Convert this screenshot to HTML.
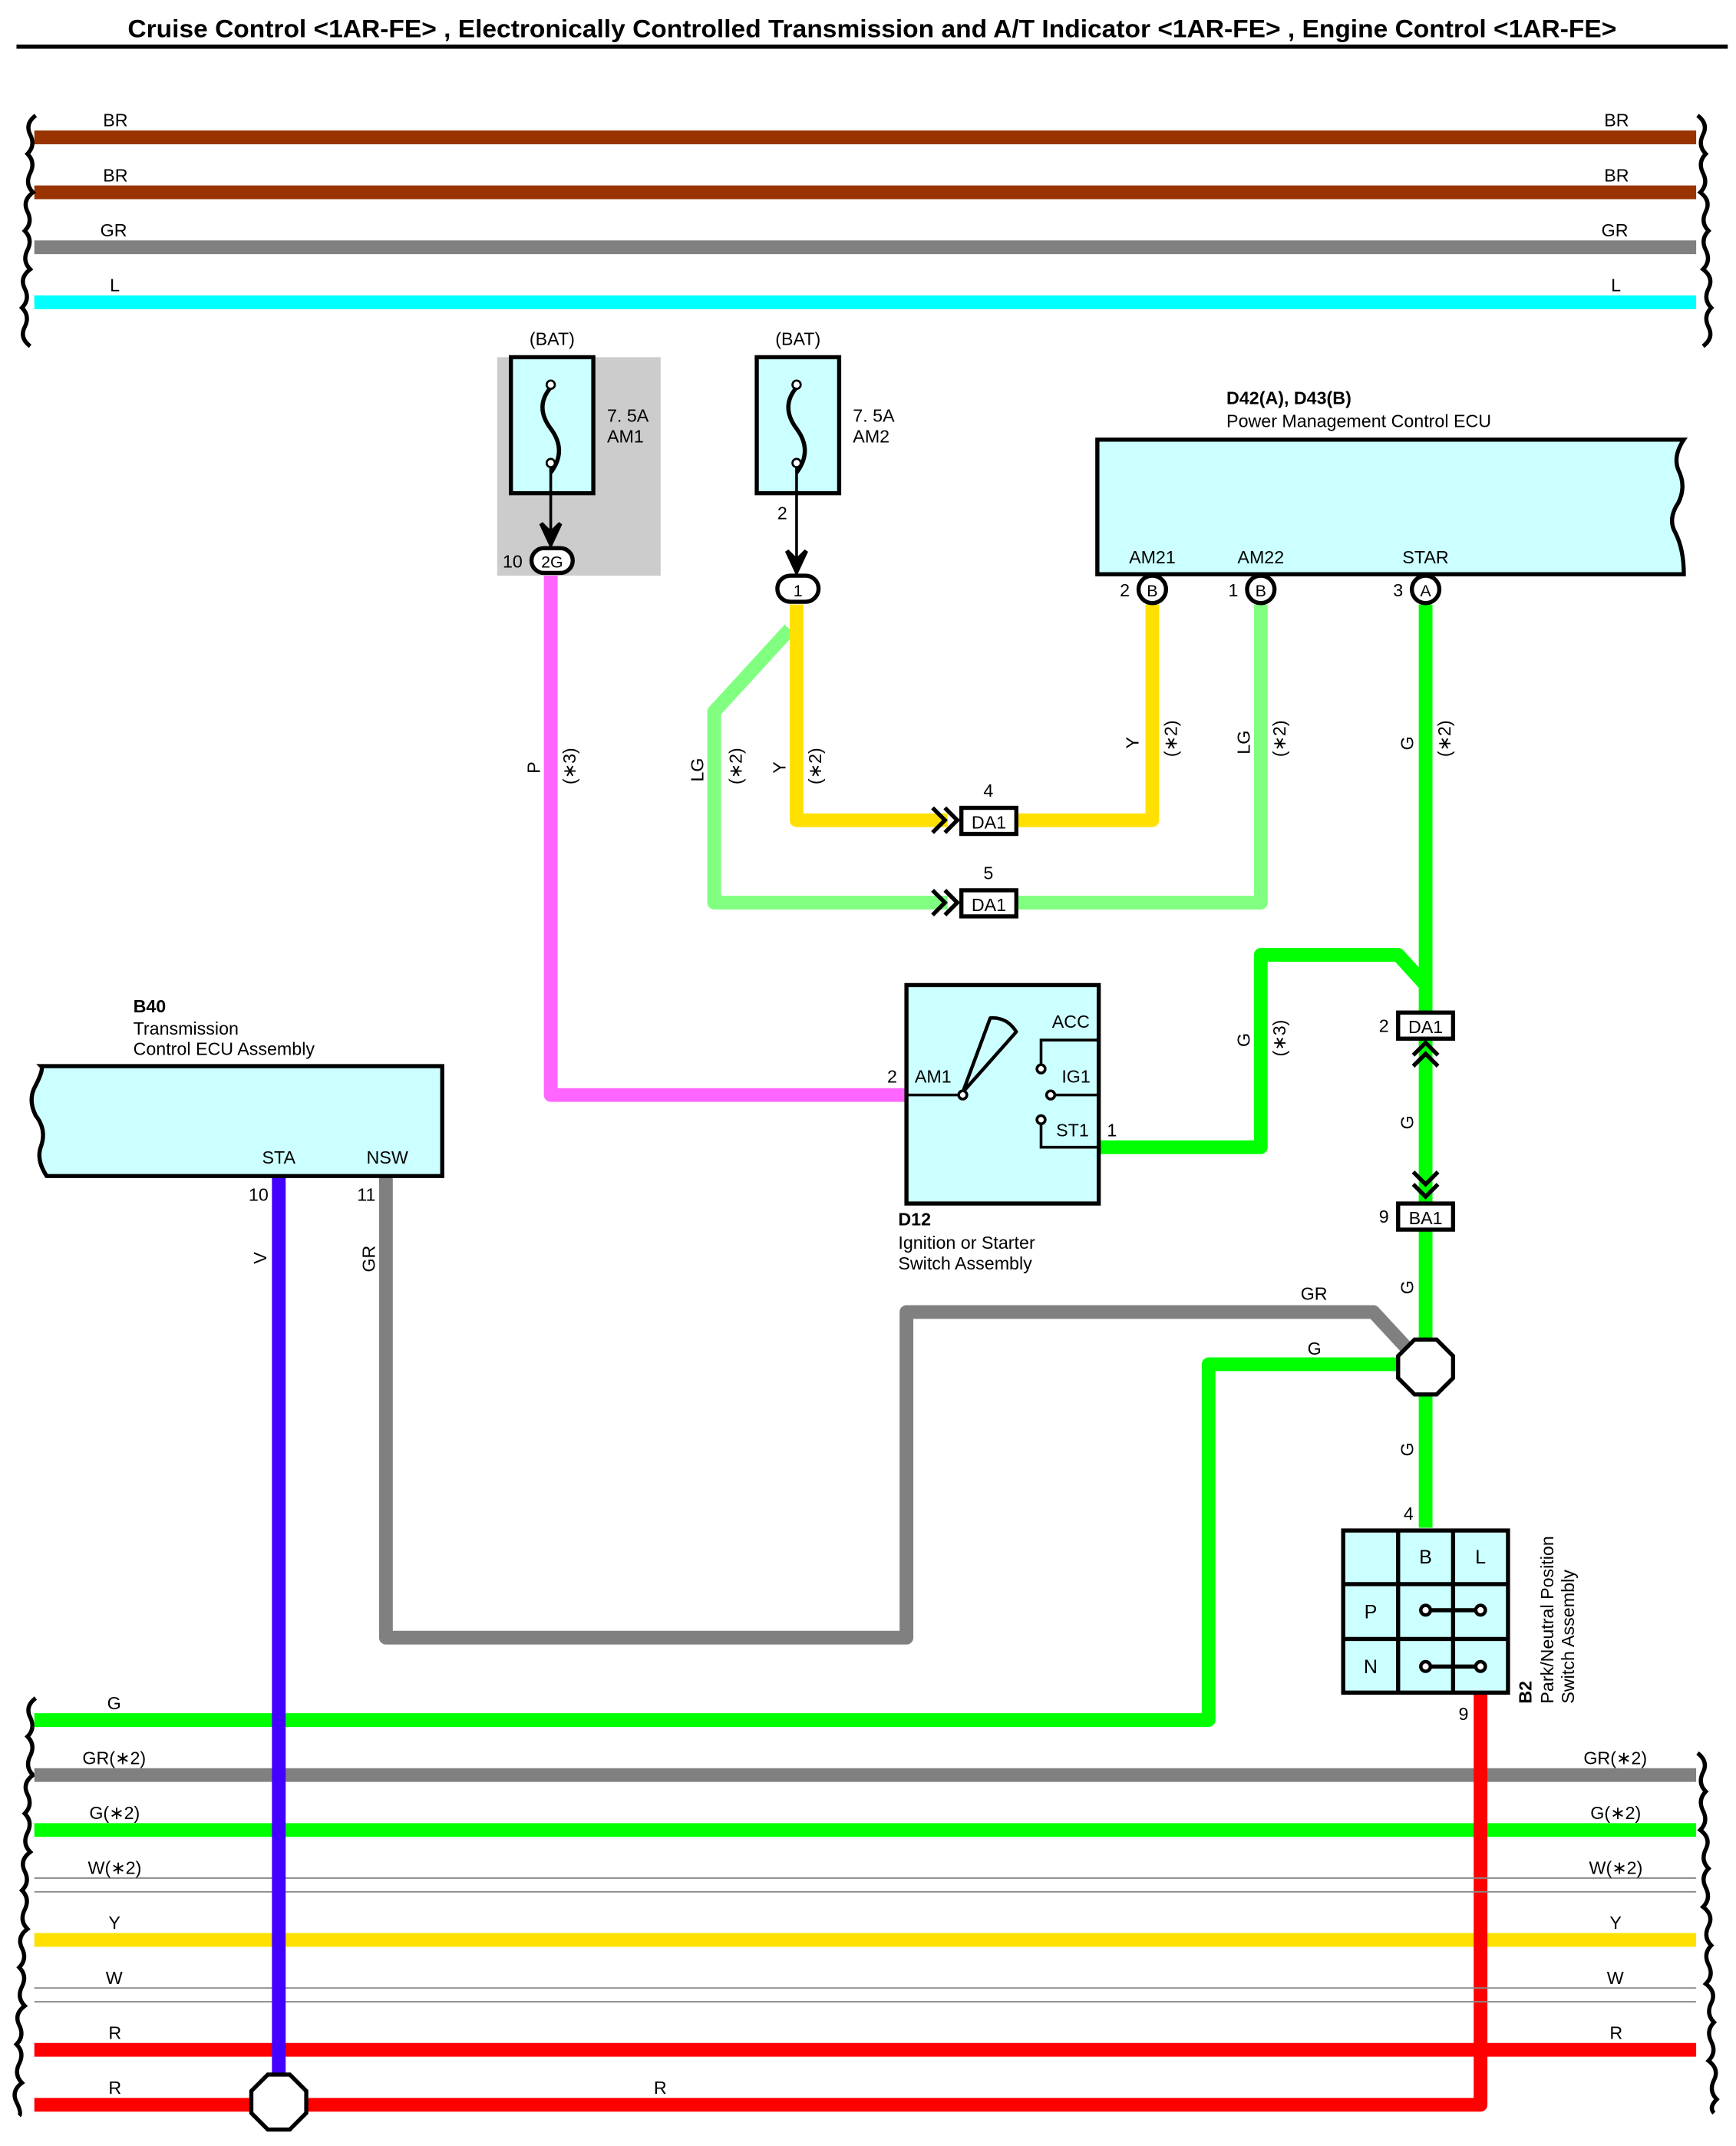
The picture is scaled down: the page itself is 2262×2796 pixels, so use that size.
<!DOCTYPE html>
<html><head><meta charset="utf-8"><style>
html,body{margin:0;padding:0;background:#fff}
svg{display:block}
text{font-family:"Liberation Sans",sans-serif;fill:#000}
</style></head><body>
<svg width="2262" height="2796" viewBox="0 0 1264 1562" preserveAspectRatio="none" xmlns="http://www.w3.org/2000/svg">
<rect width="1264" height="1562" fill="#fff"/>
<text x="93" y="27" font-size="18" font-weight="bold" textLength="1084" lengthAdjust="spacingAndGlyphs">Cruise Control &lt;1AR-FE&gt; , Electronically Controlled Transmission and A/T Indicator &lt;1AR-FE&gt; , Engine Control &lt;1AR-FE&gt;</text>
<line x1="12" y1="34" x2="1258" y2="34" stroke="#000" stroke-width="3"/>

<g stroke-width="10" fill="none">
<line x1="25" y1="100" x2="1235" y2="100" stroke="#993300"/>
<line x1="25" y1="140" x2="1235" y2="140" stroke="#993300"/>
<line x1="25" y1="180" x2="1235" y2="180" stroke="#808080"/>
<line x1="25" y1="220" x2="1235" y2="220" stroke="#00ffff"/>
</g>
<g font-size="13">
<text x="75" y="92">BR</text><text x="1168" y="92">BR</text>
<text x="75" y="132">BR</text><text x="1168" y="132">BR</text>
<text x="73" y="172">GR</text><text x="1166" y="172">GR</text>
<text x="80" y="212">L</text><text x="1173" y="212">L</text>
</g>
<g stroke="#000" stroke-width="3" fill="none">
<path d="M26,84 q-8,6 -4,14 q4,8 -2,14 q6,6 2,14 q-4,8 2,14 q-8,6 -4,14 q4,8 -2,14 q6,6 2,14 q-4,8 2,14 q-8,6 -4,14 q4,8 -2,14 q6,6 2,14 q-4,8 4,14"/>
<path d="M1236,84 q8,6 4,14 q-4,8 2,14 q-6,6 -2,14 q4,8 -2,14 q8,6 4,14 q-4,8 2,14 q-6,6 -2,14 q4,8 -2,14 q8,6 4,14 q-4,8 2,14 q-6,6 -2,14 q4,8 -4,14"/>
<path d="M26,1236 q-8,6 -4,14 q4,8 -2,14 q6,6 2,14 q-4,8 2,14 q-8,6 -4,14 q4,8 -2,14 q6,6 2,14 q-4,8 2,14 q-8,6 -4,14 q4,8 -2,14 q6,6 2,14 q-4,8 2,14 q-8,6 -4,14 q4,8 -2,14 q6,6 2,14 q-4,8 2,14 q-8,6 -4,14 q4,8 -2,14 q6,6 2,14 q-4,8 2,14 q-8,6 -4,14 q4,8 2,10"/>
<path d="M1236,1276 q8,6 4,14 q-4,8 2,14 q-6,6 -2,14 q4,8 -2,14 q8,6 4,14 q-4,8 2,14 q-6,6 -2,14 q4,8 -2,14 q8,6 4,14 q-4,8 2,14 q-6,6 -2,14 q4,8 -2,14 q8,6 4,14 q-4,8 2,14 q-6,6 -2,14 q4,8 -2,14 q8,6 4,14 q-4,8 2,14 q-6,6 -2,10"/>
</g>

<!-- bottom buses -->
<g fill="none" stroke-width="10">
<line x1="25" y1="1292" x2="1235" y2="1292" stroke="#808080"/>
<line x1="25" y1="1332" x2="1235" y2="1332" stroke="#00ff00"/>
<line x1="25" y1="1412" x2="1235" y2="1412" stroke="#ffe000"/>
<line x1="25" y1="1492" x2="1235" y2="1492" stroke="#ff0000"/>
<polyline points="25,1252 880,1252 880,993 1038,993" stroke="#00ff00" stroke-linejoin="round"/>
<polyline points="25,1532 1078,1532 1078,1232" stroke="#ff0000" stroke-linejoin="round"/>
</g>
<g stroke="#888" stroke-width="1">
<line x1="25" y1="1367" x2="1235" y2="1367"/><line x1="25" y1="1377" x2="1235" y2="1377"/>
<line x1="25" y1="1447" x2="1235" y2="1447"/><line x1="25" y1="1457" x2="1235" y2="1457"/>
</g>
<g font-size="13">
<text x="78" y="1244">G</text>
<text x="60" y="1284">GR(∗2)</text><text x="1153" y="1284">GR(∗2)</text>
<text x="65" y="1324">G(∗2)</text><text x="1158" y="1324">G(∗2)</text>
<text x="64" y="1364">W(∗2)</text><text x="1157" y="1364">W(∗2)</text>
<text x="79" y="1404">Y</text><text x="1172" y="1404">Y</text>
<text x="77" y="1444">W</text><text x="1170" y="1444">W</text>
<text x="79" y="1484">R</text><text x="1172" y="1484">R</text>
<text x="79" y="1524">R</text><text x="476" y="1524">R</text>
</g>

<!-- fuse AM1 -->
<rect x="362" y="260" width="119" height="159" fill="#cccccc"/>
<text x="402" y="251" font-size="13" text-anchor="middle">(BAT)</text>
<rect x="372" y="260" width="60" height="99" fill="#ccffff" stroke="#000" stroke-width="3"/>
<path d="M401,282 q-12,14 0,30 q12,16 0,32" fill="none" stroke="#000" stroke-width="3"/>
<circle cx="401" cy="280" r="3" fill="#fff" stroke="#000" stroke-width="1.5"/>
<circle cx="401" cy="337" r="3" fill="#fff" stroke="#000" stroke-width="1.5"/>
<line x1="401" y1="340" x2="401" y2="390" stroke="#000" stroke-width="2"/>
<path d="M394,381 L401,396 L408,381 L401,388 Z" fill="#000" stroke="#000" stroke-width="3"/>
<text x="442" y="307" font-size="13">7. 5A</text><text x="442" y="322" font-size="13">AM1</text>
<rect x="387" y="399" width="30" height="18" rx="9" fill="#fff" stroke="#000" stroke-width="3"/>
<text x="402" y="413" font-size="12" text-anchor="middle">2G</text>
<text x="366" y="413" font-size="13">10</text>

<!-- fuse AM2 -->
<text x="581" y="251" font-size="13" text-anchor="middle">(BAT)</text>
<rect x="551" y="260" width="60" height="99" fill="#ccffff" stroke="#000" stroke-width="3"/>
<path d="M580,282 q-12,14 0,30 q12,16 0,32" fill="none" stroke="#000" stroke-width="3"/>
<circle cx="580" cy="280" r="3" fill="#fff" stroke="#000" stroke-width="1.5"/>
<circle cx="580" cy="337" r="3" fill="#fff" stroke="#000" stroke-width="1.5"/>
<line x1="580" y1="340" x2="580" y2="410" stroke="#000" stroke-width="2"/>
<path d="M573,401 L580,416 L587,401 L580,408 Z" fill="#000" stroke="#000" stroke-width="3"/>
<text x="621" y="307" font-size="13">7. 5A</text><text x="621" y="322" font-size="13">AM2</text>
<text x="566" y="378" font-size="13">2</text>

<!-- wires middle -->
<g fill="none" stroke-width="10" stroke-linejoin="round">
<polyline points="401,419 401,797 660,797" stroke="#ff66ff"/>
<polyline points="575,458 520,518 520,657 690,657" stroke="#80ff80"/>
<polyline points="740,657 918,657 918,440" stroke="#80ff80"/>
<polyline points="580,440 580,597 690,597" stroke="#ffe000"/>
<polyline points="740,597 839,597 839,440" stroke="#ffe000"/>
<line x1="1038" y1="440" x2="1038" y2="737" stroke="#00ff00"/>
<polyline points="800,835 918,835 918,695 1018,695 1038,717" stroke="#00ff00"/>
<line x1="1038" y1="757" x2="1038" y2="1112" stroke="#00ff00"/>
<polyline points="281,856 281,1192 660,1192 660,955 1000,955 1025,982" stroke="#808080"/>
<line x1="203" y1="856" x2="203" y2="1515" stroke="#4400ff"/>
</g>
<rect x="566" y="419" width="30" height="19" rx="9.5" fill="#fff" stroke="#000" stroke-width="3"/>
<text x="581" y="434" font-size="12" text-anchor="middle">1</text>

<!-- DA1 connectors -->
<g stroke="#000" stroke-width="3" fill="none">
<path d="M679,588 l9,9 l-9,9 M688,588 l9,9 l-9,9"/>
<path d="M679,648 l9,9 l-9,9 M688,648 l9,9 l-9,9"/>
<path d="M1029,768 l9,-9 l9,9 M1029,776 l9,-9 l9,9"/>
<path d="M1029,853 l9,9 l9,-9 M1029,862 l9,9 l9,-9"/>
</g>
<g font-size="13">
<rect x="700" y="588" width="40" height="19" fill="#fff" stroke="#000" stroke-width="3"/><text x="720" y="603" text-anchor="middle">DA1</text><text x="716" y="580">4</text>
<rect x="700" y="648" width="40" height="19" fill="#fff" stroke="#000" stroke-width="3"/><text x="720" y="663" text-anchor="middle">DA1</text><text x="716" y="640">5</text>
<rect x="1018" y="737" width="40" height="19" fill="#fff" stroke="#000" stroke-width="3"/><text x="1038" y="752" text-anchor="middle">DA1</text><text x="1004" y="751">2</text>
<rect x="1018" y="876" width="40" height="19" fill="#fff" stroke="#000" stroke-width="3"/><text x="1038" y="891" text-anchor="middle">BA1</text><text x="1004" y="890">9</text>
</g>

<!-- Power Mgmt ECU -->
<text x="893" y="294" font-size="13" font-weight="bold">D42(A), D43(B)</text>
<text x="893" y="311" font-size="13">Power Management Control ECU</text>
<path d="M799,320 L1226,320 q-8,12 -4,22 q6,12 0,24 q-8,12 -2,22 q6,12 6,30 L799,418 Z" fill="#ccffff" stroke="#000" stroke-width="3"/>
<g font-size="13">
<text x="839" y="410" text-anchor="middle">AM21</text><text x="918" y="410" text-anchor="middle">AM22</text><text x="1038" y="410" text-anchor="middle">STAR</text>
</g>
<g font-size="12" text-anchor="middle">
<circle cx="839" cy="429" r="10" fill="#fff" stroke="#000" stroke-width="3"/><text x="839" y="434">B</text><text x="819" y="434" font-size="13">2</text>
<circle cx="918" cy="429" r="10" fill="#fff" stroke="#000" stroke-width="3"/><text x="918" y="434">B</text><text x="898" y="434" font-size="13">1</text>
<circle cx="1038" cy="429" r="10" fill="#fff" stroke="#000" stroke-width="3"/><text x="1038" y="434">A</text><text x="1018" y="434" font-size="13">3</text>
</g>

<!-- rotated wire labels -->
<g font-size="13">
<text transform="translate(393,563) rotate(-90)">P</text>
<text transform="translate(419,571) rotate(-90)">(∗3)</text>
<text transform="translate(512,569) rotate(-90)">LG</text>
<text transform="translate(540,571) rotate(-90)">(∗2)</text>
<text transform="translate(572,563) rotate(-90)">Y</text>
<text transform="translate(598,571) rotate(-90)">(∗2)</text>
<text transform="translate(829,545) rotate(-90)">Y</text>
<text transform="translate(857,551) rotate(-90)">(∗2)</text>
<text transform="translate(910,549) rotate(-90)">LG</text>
<text transform="translate(936,551) rotate(-90)">(∗2)</text>
<text transform="translate(1029,546) rotate(-90)">G</text>
<text transform="translate(1056,551) rotate(-90)">(∗2)</text>
<text transform="translate(910,762) rotate(-90)">G</text>
<text transform="translate(936,769) rotate(-90)">(∗3)</text>
<text transform="translate(1029,822) rotate(-90)">G</text>
<text transform="translate(1029,942) rotate(-90)">G</text>
<text transform="translate(1029,1060) rotate(-90)">G</text>
<text transform="translate(194,920) rotate(-90)">V</text>
<text transform="translate(273,926) rotate(-90)">GR</text>
<text x="947" y="946">GR</text>
<text x="952" y="986">G</text>
</g>

<!-- splices -->
<polygon points="1030,975 1046,975 1058,987 1058,1003 1046,1015 1030,1015 1018,1003 1018,987" fill="#fff" stroke="#000" stroke-width="3"/>
<polygon points="195,1510 211,1510 223,1522 223,1538 211,1550 195,1550 183,1538 183,1522" fill="#fff" stroke="#000" stroke-width="3"/>

<!-- Ignition switch -->
<rect x="660" y="717" width="140" height="159" fill="#ccffff" stroke="#000" stroke-width="3"/>
<g stroke="#000" stroke-width="2" fill="none">
<line x1="660" y1="797" x2="698" y2="797"/>
<path d="M701,795 L721,741 Q733,740 740,751 Z" stroke-width="2.5" stroke-linejoin="round"/>
<circle cx="701" cy="797" r="3" fill="#fff"/>
<polyline points="800,757 758,757 758,775"/><circle cx="758" cy="778" r="3" fill="#fff"/>
<line x1="768" y1="797" x2="800" y2="797"/><circle cx="765" cy="797" r="3" fill="#fff"/>
<polyline points="800,835 758,835 758,818"/><circle cx="758" cy="815" r="3" fill="#fff"/>
</g>
<g font-size="13">
<text x="666" y="788">AM1</text><text x="646" y="788">2</text>
<text x="766" y="748">ACC</text><text x="773" y="788">IG1</text><text x="769" y="827">ST1</text>
<text x="806" y="827">1</text>
<text x="654" y="892" font-weight="bold">D12</text>
<text x="654" y="909">Ignition or Starter</text>
<text x="654" y="924">Switch Assembly</text>
</g>

<!-- B40 -->
<text x="97" y="737" font-size="13" font-weight="bold">B40</text>
<text x="97" y="753" font-size="13">Transmission</text>
<text x="97" y="768" font-size="13">Control ECU Assembly</text>
<path d="M322,776 L322,856 L34,856 q-8,-12 -4,-22 q4,-12 -4,-22 q-6,-12 0,-22 q6,-12 4,-14 Z" fill="#ccffff" stroke="#000" stroke-width="3"/>
<text x="203" y="847" font-size="13" text-anchor="middle">STA</text>
<text x="282" y="847" font-size="13" text-anchor="middle">NSW</text>
<text x="181" y="874" font-size="13">10</text>
<text x="260" y="874" font-size="13">11</text>

<!-- B2 -->
<rect x="978" y="1114" width="120" height="118" fill="#ccffff" stroke="#000" stroke-width="3"/>
<g stroke="#000" stroke-width="3">
<line x1="1018" y1="1114" x2="1018" y2="1232"/><line x1="1058" y1="1114" x2="1058" y2="1232"/>
<line x1="978" y1="1153" x2="1098" y2="1153"/><line x1="978" y1="1193" x2="1098" y2="1193"/>
<line x1="1038" y1="1172" x2="1078" y2="1172"/><line x1="1038" y1="1213" x2="1078" y2="1213"/>
</g>
<g fill="#fff" stroke="#000" stroke-width="2.5">
<circle cx="1038" cy="1172" r="3.5"/><circle cx="1078" cy="1172" r="3.5"/>
<circle cx="1038" cy="1213" r="3.5"/><circle cx="1078" cy="1213" r="3.5"/>
</g>
<g font-size="14" text-anchor="middle">
<text x="1038" y="1138">B</text><text x="1078" y="1138">L</text>
<text x="998" y="1178">P</text><text x="998" y="1218">N</text>
</g>
<text x="1022" y="1106" font-size="13">4</text>
<text x="1062" y="1252" font-size="13">9</text>
<text transform="translate(1115,1240) rotate(-90)" font-size="13" font-weight="bold">B2</text>
<text transform="translate(1131,1240) rotate(-90)" font-size="13">Park/Neutral Position</text>
<text transform="translate(1146,1240) rotate(-90)" font-size="13">Switch Assembly</text>
</svg>
</body></html>
